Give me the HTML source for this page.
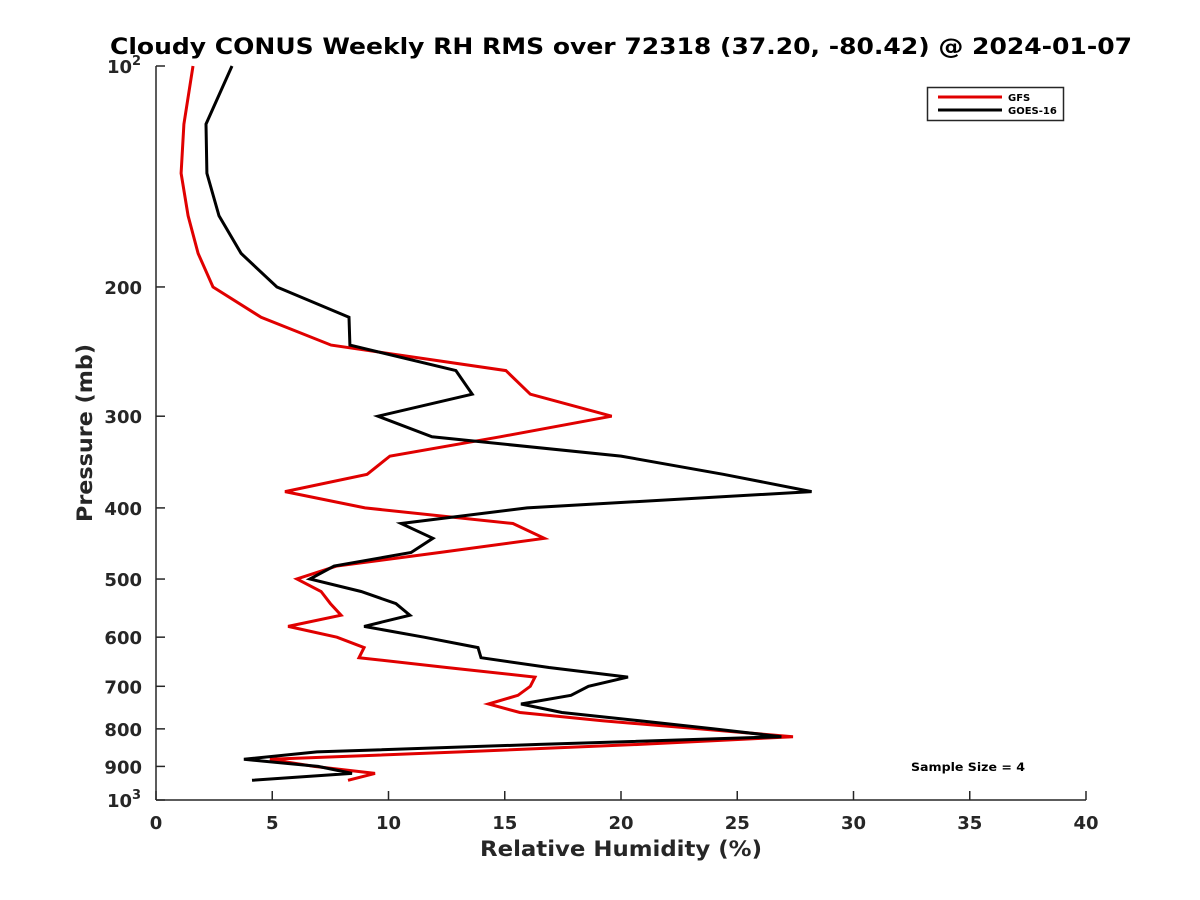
<!DOCTYPE html>
<html><head><meta charset="utf-8"><style>
body{margin:0;background:#fff}
svg{display:block;font-family:"DejaVu Sans","Liberation Sans",sans-serif;font-weight:bold}
</style></head><body>
<svg id="chart" width="1200" height="900" viewBox="0 0 1200 900">
<rect width="1200" height="900" fill="#fff"/>
<text x="621" y="54" text-anchor="middle" font-size="22" textLength="1022" lengthAdjust="spacingAndGlyphs" fill="#000">Cloudy CONUS Weekly RH RMS over 72318 (37.20, -80.42) @ 2024-01-07</text>
<g id="axes"></g>
<g id="series"></g>
<text x="621" y="856" text-anchor="middle" font-size="21" textLength="282" lengthAdjust="spacingAndGlyphs" fill="#262626">Relative Humidity (%)</text>
<text transform="translate(92,433) rotate(-90)" text-anchor="middle" font-size="21" textLength="178" lengthAdjust="spacingAndGlyphs" fill="#262626">Pressure (mb)</text>
<text x="968" y="771" text-anchor="middle" font-size="11.5" textLength="114" lengthAdjust="spacingAndGlyphs" fill="#000">Sample Size = 4</text>
<g>
<rect x="927.5" y="87.5" width="136" height="33" fill="#fff" stroke="#262626" stroke-width="1.5"/>
<line x1="938" y1="97" x2="1002" y2="97" stroke="#e00000" stroke-width="3"/>
<text x="1008" y="101" font-size="10" fill="#000">GFS</text>
<line x1="938" y1="110" x2="1002" y2="110" stroke="#000" stroke-width="3"/>
<text x="1008" y="114" font-size="10" fill="#000">GOES-16</text>
</g>
</svg>
<script>
const pressures=[100,120,140,160,180,200,220,240,260,280,300,320,340,360,380,400,420,440,460,480,500,520,540,560,580,600,620,640,660,680,700,720,740,760,780,800,820,840,860,880,900,920,940];
const gfsRH=[1.59,1.2,1.08,1.38,1.81,2.45,4.52,7.53,15.05,16.1,19.6,14.8,10.06,9.08,5.55,8.99,15.35,16.7,12.2,7.78,6.06,7.1,7.5,7.96,5.68,7.78,8.95,8.73,12.5,16.3,16.1,15.57,14.3,15.65,19.2,23.4,27.4,20.8,13.1,4.9,6.8,9.42,8.26];
const goesRH=[3.27,2.15,2.19,2.71,3.66,5.2,8.3,8.34,12.9,13.6,9.55,11.87,20.0,24.4,28.2,15.96,10.54,11.91,10.97,7.66,6.62,8.82,10.32,10.92,8.95,11.53,13.85,13.98,16.9,20.3,18.6,17.85,15.7,17.46,20.8,24.0,26.9,16.5,6.92,3.78,6.97,8.43,4.13];
const xTicks=[0,5,10,15,20,25,30,35,40];
const yTicks=[100,200,300,400,500,600,700,800,900,1000];
const yTickLabels=["10","200","300","400","500","600","700","800","900","10"];

const NS="http://www.w3.org/2000/svg";
const X0=156,X1=1086,Y0=66,Y1=800;
function xs(v){return X0+(v-0)/(40-0)*(X1-X0);}
function ys(p){return Y0+(Math.log10(p)-2)*(Y1-Y0);}
function mk(tag,attrs,parent){const e=document.createElementNS(NS,tag);for(const k in attrs)e.setAttribute(k,attrs[k]);parent.appendChild(e);return e;}
const axes=document.getElementById('axes');
const ax=mk('line',{x1:X0,y1:Y1,x2:X1,y2:Y1,stroke:'#262626','stroke-width':1.5},axes);


const ay=mk('line',{x1:X0,y1:Y0,x2:X0,y2:Y1,stroke:'#262626','stroke-width':1.5},axes);


xTicks.forEach(v=>{
  const x=xs(v);
  const t=mk('line',{x1:x,y1:Y1,x2:x,y2:Y1-9,stroke:'#262626','stroke-width':1.5},axes);
  
  
  const l=mk('text',{x:x,y:Y1+29,'text-anchor':'middle','font-size':18,fill:'#262626'},axes);
  l.textContent=String(v);
  
  
});
yTicks.forEach((p,i)=>{
  const y=ys(p);
  const t=mk('line',{x1:X0,y1:y,x2:X0+9,y2:y,stroke:'#262626','stroke-width':1.5},axes);
  
  
  const l=mk('text',{x:X0-14,y:y+7,'text-anchor':'end','font-size':18,fill:'#262626'},axes);
  
  
  if(p===100||p===1000){
    l.setAttribute('x',X0-24);
    l.textContent=yTickLabels[i];
    const s=mk('text',{x:X0-24,y:y-1,'text-anchor':'start','font-size':13,fill:'#262626'},axes);
    s.textContent=(p===100?'2':'3');
    
    
  } else l.textContent=yTickLabels[i];
});
const series=document.getElementById('series');
function draw(vals,color,name){
  const pts=vals.map((v,i)=>xs(v).toFixed(1)+','+ys(pressures[i]).toFixed(1)).join(' ');
  const pl=mk('polyline',{points:pts,fill:'none',stroke:color,'stroke-width':3,'stroke-linejoin':'miter'},series);
  
  
}
draw(gfsRH,'#e00000','gfs-line');
draw(goesRH,'#000000','goes16-line');
</script>
</body></html>
